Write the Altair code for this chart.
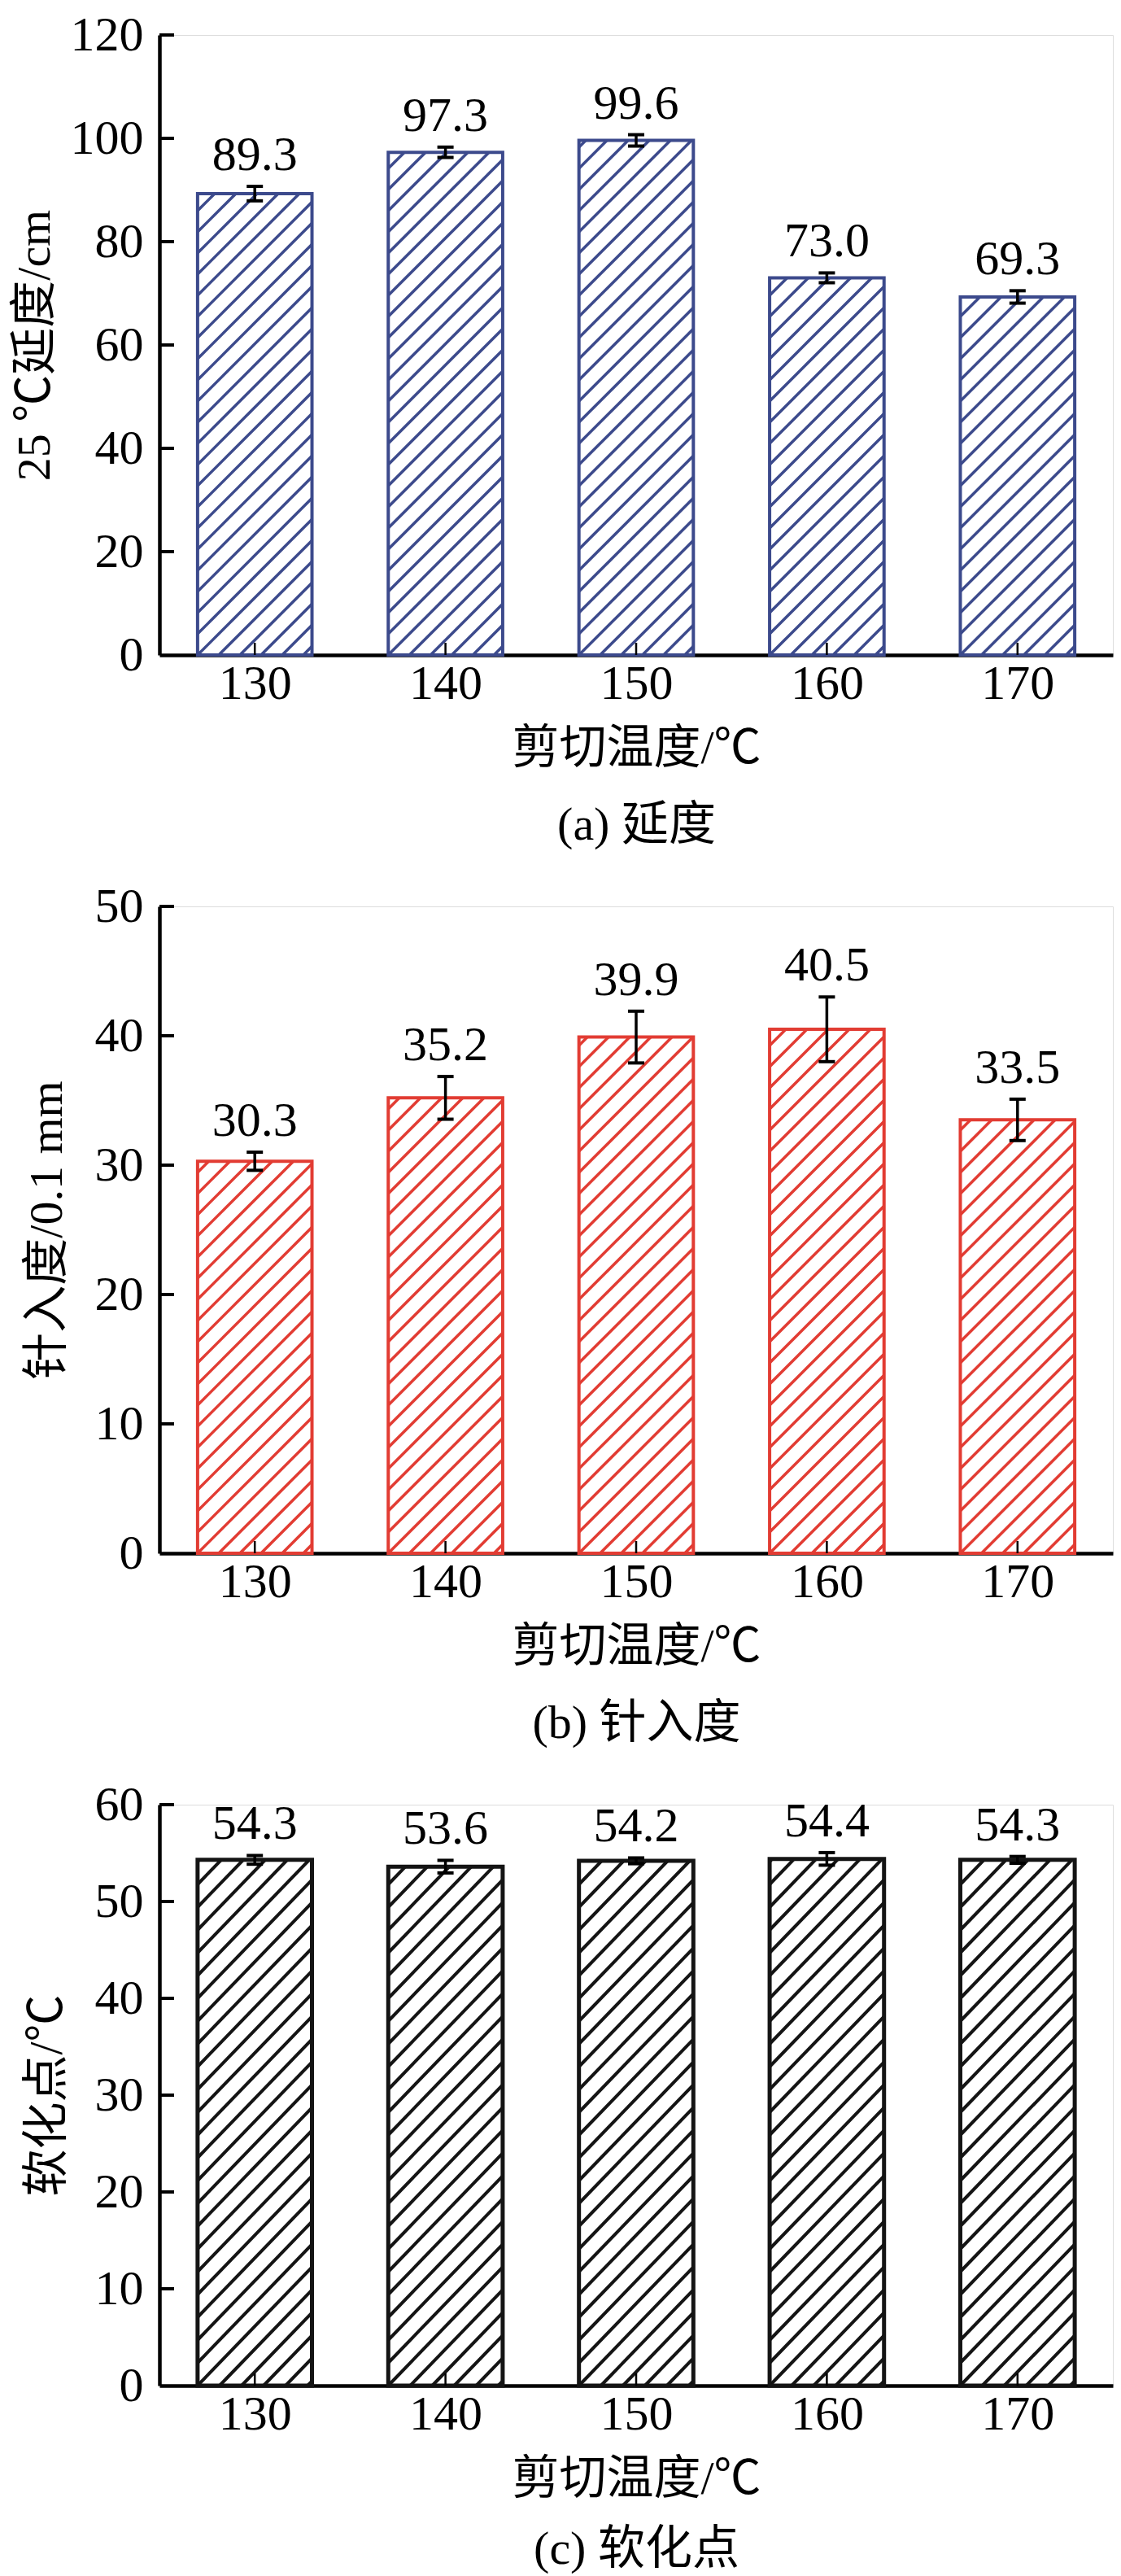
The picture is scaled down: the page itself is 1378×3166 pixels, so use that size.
import math
import altair as alt
import pandas as pd

# ---------------- data ----------------
temps = [130, 140, 150, 160, 170]

ductility = [89.3, 97.3, 99.6, 73.0, 69.3]
ductility_err = [1.4, 1.0, 1.1, 0.95, 1.2]

penetration = [30.3, 35.2, 39.9, 40.5, 33.5]
penetration_err = [0.7, 1.65, 2.0, 2.5, 1.6]

softening = [54.3, 53.6, 54.2, 54.4, 54.3]
softening_err = [0.45, 0.65, 0.3, 0.65, 0.35]

yticks_a = [0, 20, 40, 60, 80, 100, 120]
yticks_b = [0, 10, 20, 30, 40, 50]
yticks_c = [0, 10, 20, 30, 40, 50, 60]

x_title = "剪切温度/℃"
y_titles = ["25 ℃延度/cm", "针入度/0.1 mm", "软化点/℃"]
captions = ["(a) 延度", "(b) 针入度", "(c) 软化点"]
colors = ["#3c4a8c", "#e23c33", "#141414"]

# ---------------- style ----------------
FONT = "Liberation Serif, Noto Sans CJK SC"
W = 1172
XMIN, XMAX = 125, 175
HALF = 3.0           # half bar width in data units
NUM_SIZE = 60
CJK_SIZE = 58


def panel(values, errs, ymax, yticks, height, color, ytitle, caption,
          title_x, stroke_w, hatch_w, hatch_angle, hatch_step, cap_line):
    sx = W / (XMAX - XMIN)
    sy = height / ymax
    xs = alt.Scale(domain=[XMIN, XMAX], nice=False, zero=False)
    ys = alt.Scale(domain=[0, ymax], nice=False, zero=True)

    x_axis = alt.Axis(
        values=temps, format="d", ticks=False, grid=False,
        domainColor="black", domainWidth=4.5,
        labelFont=FONT, labelFontSize=NUM_SIZE, labelColor="black",
        labelPadding=6, labelFlush=False,
        title=[x_title, caption], titleFont=FONT, titleFontSize=CJK_SIZE,
        titleFontWeight="normal", titleColor="black", titleLineHeight=cap_line,
        titlePadding=21)
    y_axis = alt.Axis(
        values=yticks, format="d", ticks=False, grid=False,
        domainColor="black", domainWidth=4.5,
        labelFont=FONT, labelFontSize=NUM_SIZE, labelColor="black",
        labelPadding=20,
        title=ytitle, titleFont=FONT, titleFontSize=CJK_SIZE,
        titleFontWeight="normal", titleColor="black",
        titleX=title_x, titleBaseline="middle")

    def X(f):
        return alt.X(f, scale=xs, axis=x_axis)

    def Y(f):
        return alt.Y(f, scale=ys, axis=y_axis)

    df = pd.DataFrame({"temp": temps, "value": values, "err": errs})
    df["lo"] = df["value"] - df["err"]
    df["hi"] = df["value"] + df["err"]
    df["label"] = [f"{v:.1f}" for v in values]
    cap = 10.0 / sx
    df["cl"] = df["temp"] - cap
    df["cr"] = df["temp"] + cap
    df["xl"] = df["temp"] - HALF
    df["xr"] = df["temp"] + HALF
    df["zero"] = 0.0

    # hatch lines (derived from bar geometry through the scales)
    t = math.tan(math.radians(hatch_angle))
    w_px = 2 * HALF * sx
    rows = []
    for temp, v in zip(temps, values):
        h = v * sy
        k0 = math.floor(-w_px * t / hatch_step) - 1
        k1 = math.ceil(h / hatch_step) + 1
        for k in range(k0, k1 + 1):
            c = k * hatch_step
            X0 = max(0.0, -c / t)
            X1 = min(w_px, (h - c) / t)
            if X1 - X0 > 0.5:
                rows.append({
                    "x": temp - HALF + X0 / sx,
                    "x2": temp - HALF + X1 / sx,
                    "y": (c + X0 * t) / sy,
                    "y2": (c + X1 * t) / sy,
                })
    hdf = pd.DataFrame(rows)

    yt = pd.DataFrame({"v": [v for v in yticks if v > 0]})
    yt["x"] = XMIN
    yt["x2"] = XMIN + 18.0 / sx
    xt = pd.DataFrame({"temp": temps})
    xt["y"] = 0.0
    xt["y2"] = 15.0 / sy

    bars = alt.Chart(df).mark_rect(fillOpacity=0, stroke=color, strokeWidth=stroke_w).encode(
        x=X("xl:Q"), x2="xr:Q", y=Y("value:Q"), y2="zero:Q",
    )
    hatch = alt.Chart(hdf).mark_rule(color=color, strokeWidth=hatch_w, strokeCap="butt").encode(
        x=X("x:Q"), x2="x2:Q", y=Y("y:Q"), y2="y2:Q",
    )
    ytick = alt.Chart(yt).mark_rule(color="black", strokeWidth=4).encode(
        x=X("x:Q"), x2="x2:Q", y=Y("v:Q"),
    )
    xtick = alt.Chart(xt).mark_rule(color="black", strokeWidth=2.5).encode(
        x=X("temp:Q"), y=Y("y:Q"), y2="y2:Q",
    )
    err = alt.Chart(df).mark_rule(color="black", strokeWidth=3.5).encode(
        x=X("temp:Q"), y=Y("lo:Q"), y2="hi:Q",
    )
    cap_hi = alt.Chart(df).mark_rule(color="black", strokeWidth=4).encode(
        x=X("cl:Q"), x2="cr:Q", y=Y("hi:Q"),
    )
    cap_lo = alt.Chart(df).mark_rule(color="black", strokeWidth=4).encode(
        x=X("cl:Q"), x2="cr:Q", y=Y("lo:Q"),
    )
    text = alt.Chart(df).mark_text(
        font=FONT, fontSize=NUM_SIZE, color="black", baseline="alphabetic",
        align="center", dy=-20,
    ).encode(
        x=X("temp:Q"), y=Y("hi:Q"), text="label:N",
    )

    return alt.layer(hatch, bars, ytick, xtick, err, cap_hi, cap_lo, text).properties(
        width=W, height=height
    )


pa = panel(ductility, ductility_err, 120, yticks_a, 762, colors[0], y_titles[0], captions[0],
           -153, 4, 3.5, 45, 26, 94)
pb = panel(penetration, penetration_err, 50, yticks_b, 795, colors[1], y_titles[1], captions[1],
           -138, 4, 3.5, 45, 26, 94)
pc = panel(softening, softening_err, 60, yticks_c, 714, colors[2], y_titles[2], captions[2],
           -138, 5, 4, 46, 28, 86)

chart = alt.vconcat(pa, pb, pc, spacing=309, bounds="flush").properties(
    padding={"left": 5, "top": 4, "right": 0, "bottom": 0}
).configure_view(strokeWidth=0).configure(background="white")

chart.save("out.html", embed_options={"renderer": "svg", "actions": False})
